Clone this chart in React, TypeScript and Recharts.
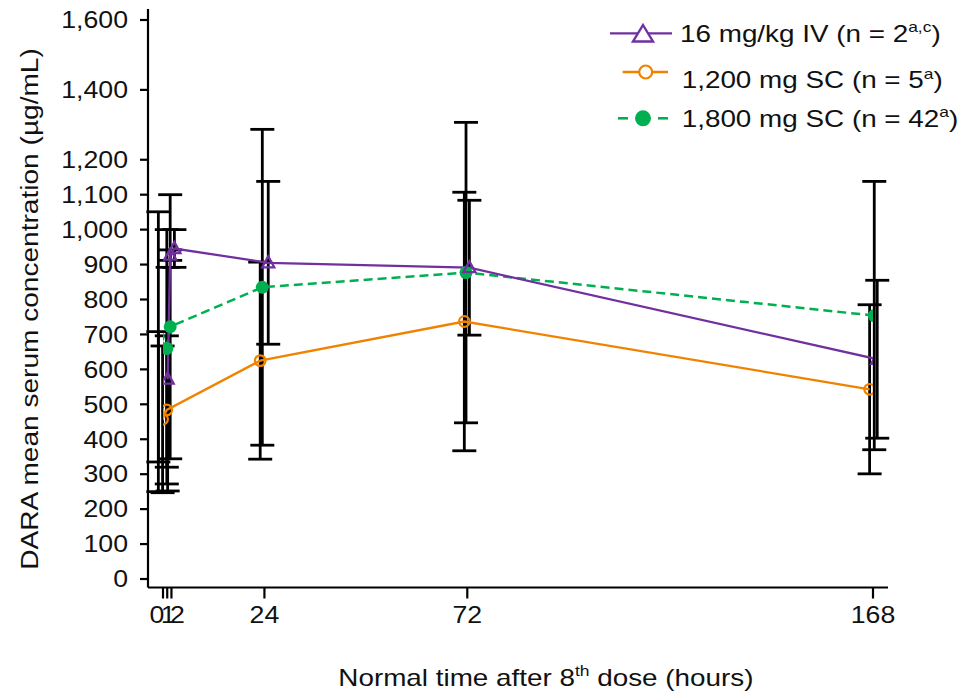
import React from "react"
import { LineChart, Line, XAxis, YAxis, ErrorBar } from "recharts"

// nominal times (h) and mean ± SD (µg/mL)
const ivTime = [1.1, 1.7, 2.7, 24.9, 72.5, 169]
const ivMean = [572, 927, 946, 905, 891, 629]
const ivSd = [320, 15, 54, 233, 193, 226]

const sc1200Time = [-1.1, -0.1, 0.9, 23.0, 71.3, 167.2]
const sc1200Mean = [479, 457, 484, 625, 737, 543]
const sc1200Sd = [229, 210, 212, 282, 370, 242]

const sc1800Time = [-1.1, 0.9, 1.7, 23.5, 71.7, 168.3]
const sc1800Mean = [693, 660, 722, 835, 877, 754]
const sc1800Sd = [358, 340, 378, 452, 430, 384]

const xTicks = [0, 1, 2, 24, 72, 168]
const yTicks = [0, 100, 200, 300, 400, 500, 600, 700, 800, 900, 1000, 1100, 1200, 1400, 1600]

const PURPLE = "#7030A0"
const ORANGE = "#F08200"
const GREEN = "#00B050"
const FONT = "'Liberation Sans', Arial, sans-serif"
const SX = 1.16 // type in the source is set a bit wider than Arial

const toRows = (t: number[], m: number[], s: number[]) =>
    t.map((x, i) => ({ t: x, v: m[i], sd: s[i] }))

const ivRows = toRows(ivTime, ivMean, ivSd)
const sc1200Rows = toRows(sc1200Time, sc1200Mean, sc1200Sd)
const sc1800Rows = toRows(sc1800Time, sc1800Mean, sc1800Sd)

// small nudges so the 0/1/2 labels sit like in the original
const xLabelNudge: Record<number, number> = { 0: -6, 1: 1, 2: 6 }

function YTick({ x, y, payload }: any) {
    return (
        <g transform={`translate(${x},${y})`}>
            <text transform={`scale(${SX},1)`} textAnchor="end" dy="0.36em" fontSize={23} fontFamily={FONT} fill="#111">
                {Number(payload.value).toLocaleString("en-US")}
            </text>
        </g>
    )
}

function XTick({ x, y, payload }: any) {
    const dx = xLabelNudge[payload.value] ?? 0
    return (
        <g transform={`translate(${x + dx},${y})`}>
            <text transform={`scale(${SX},1)`} textAnchor="middle" dy="0.72em" fontSize={23} fontFamily={FONT} fill="#111">
                {payload.value}
            </text>
        </g>
    )
}

const triangleDot = (props: any) => {
    const { cx, cy, index } = props
    if (cx == null || cy == null) return <g key={`tri-${index}`} />
    return (
        <path
            key={`tri-${index}`}
            d={`M${cx},${cy - 6.5} L${cx + 6},${cy + 4.5} L${cx - 6},${cy + 4.5} Z`}
            fill="none"
            stroke={PURPLE}
            strokeWidth={2.3}
        />
    )
}

const openCircleDot = (props: any) => {
    const { cx, cy, index } = props
    if (cx == null || cy == null) return <g key={`oc-${index}`} />
    return <circle key={`oc-${index}`} cx={cx} cy={cy} r={5.3} fill="none" stroke={ORANGE} strokeWidth={2.2} />
}

const filledCircleDot = (props: any) => {
    const { cx, cy, index } = props
    if (cx == null || cy == null) return <g key={`fc-${index}`} />
    return <circle key={`fc-${index}`} cx={cx} cy={cy} r={6.5} fill={GREEN} stroke="none" />
}

function Overlay() {
    const txt = { fontSize: 24, fontFamily: FONT, fill: "#111" }
    return (
        <svg width={963} height={692} style={{ position: "absolute", left: 0, top: 0, pointerEvents: "none" }}>
            {/* legend */}
            <line x1={610} y1={33.3} x2={672} y2={33.3} stroke={PURPLE} strokeWidth={2.3} />
            <path d="M643,25 L653,41.5 L633,41.5 Z" fill="#fff" stroke={PURPLE} strokeWidth={2.4} />
            <g transform="translate(680,41.7)">
                <text transform={`scale(${SX},1)`} {...txt}>
                    16 mg/kg IV (n = 2<tspan fontSize={15} dy={-9.5}>a,c</tspan><tspan dy={9.5}>)</tspan>
                </text>
            </g>

            <line x1={622.7} y1={72} x2={668} y2={72} stroke={ORANGE} strokeWidth={2.3} />
            <circle cx={645.7} cy={72} r={6.5} fill="#fff" stroke={ORANGE} strokeWidth={2.2} />
            <g transform="translate(681.7,88.3)">
                <text transform={`scale(${SX},1)`} {...txt}>
                    1,200 mg SC (n = 5<tspan fontSize={15} dy={-9.5}>a</tspan><tspan dy={9.5}>)</tspan>
                </text>
            </g>

            <line x1={618} y1={118.3} x2={628} y2={118.3} stroke={GREEN} strokeWidth={2.6} />
            <line x1={658} y1={118.3} x2={668} y2={118.3} stroke={GREEN} strokeWidth={2.6} />
            <circle cx={643} cy={118.3} r={8} fill={GREEN} />
            <g transform="translate(681.7,126.5)">
                <text transform={`scale(${SX},1)`} {...txt}>
                    1,800 mg SC (n = 42<tspan fontSize={15} dy={-9.5}>a</tspan><tspan dy={9.5}>)</tspan>
                </text>
            </g>

            {/* axis titles */}
            <g transform="translate(338.3,685.5)">
                <text transform={`scale(${SX},1)`} {...txt}>
                    Normal time after 8<tspan fontSize={15} dy={-9.5}>th</tspan><tspan dy={9.5}> dose (hours)</tspan>
                </text>
            </g>
            <g transform="translate(38,309) rotate(-90)">
                <text transform="scale(1.17,1)" textAnchor="middle" {...txt}>
                    DARA mean serum concentration (µg/mL)
                </text>
            </g>
        </svg>
    )
}

export default function App() {
    return (
        <div style={{ position: "absolute", left: 0, top: 0, width: 963, height: 692, background: "#fff" }}>
            <LineChart width={963} height={692} margin={{ top: 9, right: 75, bottom: 64.5, left: 0 }}>
                <XAxis
                    dataKey="t"
                    type="number"
                    domain={[0, 168]}
                    allowDataOverflow
                    ticks={xTicks}
                    interval={0}
                    padding={{ left: 15, right: 15 }}
                    height={40}
                    tickSize={11}
                    tickMargin={8}
                    axisLine={{ stroke: "#000", strokeWidth: 2.2 }}
                    tickLine={{ stroke: "#000", strokeWidth: 2.2 }}
                    tick={<XTick />}
                />
                <YAxis
                    type="number"
                    domain={[0, 1600]}
                    allowDataOverflow
                    ticks={yTicks}
                    interval={0}
                    padding={{ top: 11, bottom: 8.5 }}
                    width={148}
                    tickSize={8}
                    tickMargin={12}
                    axisLine={{ stroke: "#000", strokeWidth: 2.2 }}
                    tickLine={{ stroke: "#000", strokeWidth: 2.2 }}
                    tick={<YTick />}
                />

                {/* error bars first so the markers sit on top */}
                <Line data={sc1200Rows} dataKey="v" stroke="none" dot={false} activeDot={false} legendType="none" isAnimationActive={false}>
                    <ErrorBar dataKey="sd" direction="y" width={12} stroke="#000" strokeWidth={2.8} isAnimationActive={false} />
                </Line>
                <Line data={sc1800Rows} dataKey="v" stroke="none" dot={false} activeDot={false} legendType="none" isAnimationActive={false}>
                    <ErrorBar dataKey="sd" direction="y" width={12} stroke="#000" strokeWidth={2.8} isAnimationActive={false} />
                </Line>
                <Line data={ivRows} dataKey="v" stroke="none" dot={false} activeDot={false} legendType="none" isAnimationActive={false}>
                    <ErrorBar dataKey="sd" direction="y" width={12} stroke="#000" strokeWidth={2.8} isAnimationActive={false} />
                </Line>

                <Line data={sc1200Rows} dataKey="v" type="linear" stroke={ORANGE} strokeWidth={2.3} dot={openCircleDot} activeDot={false} isAnimationActive={false} />
                <Line data={sc1800Rows} dataKey="v" type="linear" stroke={GREEN} strokeWidth={2.5} strokeDasharray="9 5" dot={filledCircleDot} activeDot={false} isAnimationActive={false} />
                <Line data={ivRows} dataKey="v" type="linear" stroke={PURPLE} strokeWidth={2.3} dot={triangleDot} activeDot={false} isAnimationActive={false} />
            </LineChart>
            <Overlay />
        </div>
    )
}
